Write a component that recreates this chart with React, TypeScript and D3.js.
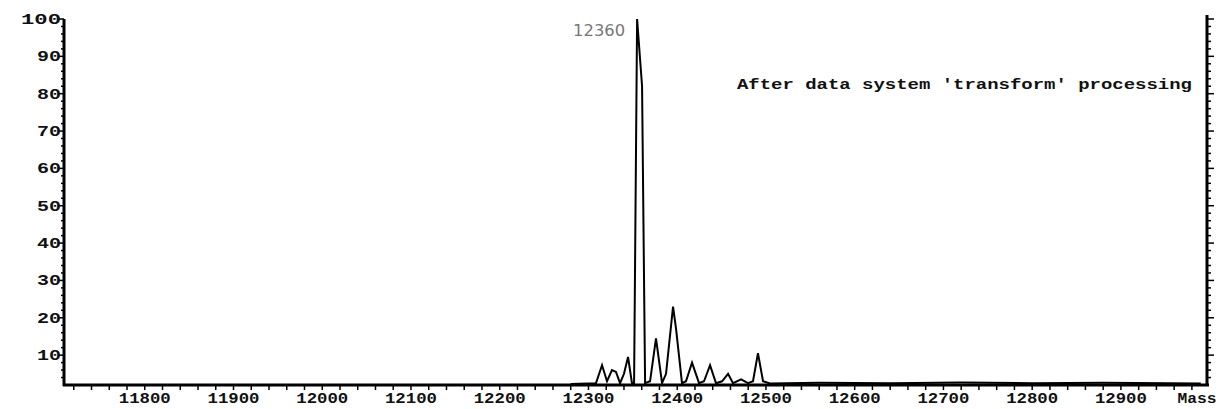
import React from 'react';
import * as d3 from 'd3';

// deconvoluted mass spectrum
const masses = [
  12280, 12308.5, 12315.3, 12320.9, 12326.5, 12331, 12335.6, 12340, 12344.6, 12349,
  12351.4, 12354.8, 12360.4, 12363.8, 12369.4, 12376.1, 12382.9, 12387.4, 12395.3, 12398.7,
  12405.4, 12409.9, 12416.7, 12424.6, 12430.2, 12437, 12443.7, 12450.5, 12457.3, 12462.9,
  12472, 12479.8, 12485.4, 12491, 12496.7, 12504.6, 12560, 12640, 12720, 12800, 12880, 12990,
];
const intensities = [
  2.3, 2.5, 7.3, 3, 6, 5.5, 2.5, 5, 9.5, 2.5,
  2.5, 100, 82, 2.5, 3, 14.5, 2.5, 5, 23, 17,
  2.5, 3, 8, 2.5, 3, 7.3, 2.5, 3, 5, 2.5,
  3.5, 2.5, 3, 10.5, 3, 2.4, 2.6, 2.5, 2.7, 2.5, 2.6, 2.4,
];

const xTicks = [11800, 11900, 12000, 12100, 12200, 12300, 12400, 12500, 12600, 12700, 12800, 12900];
const yTicks = [10, 20, 30, 40, 50, 60, 70, 80, 90, 100];
const peakMass = 12354.8;
const peakText = '12360';
const note = "After data system 'transform' processing";
const xTitle = 'Mass';

const W = 1226;
const H = 409;
const mono = '"Liberation Mono", "DejaVu Sans Mono", monospace';

export default function App() {
  const x = d3.scaleLinear().domain([11709, 12997]).range([64, 1207]);
  const y = d3.scaleLinear().domain([2, 100]).range([385, 19]);

  const pts: [number, number][] = masses.map((m, i) => [m, intensities[i]]);
  const line = d3.line<[number, number]>()
    .x(d => x(d[0]))
    .y(d => y(d[1]));

  const xMinor = d3.range(11720, 12997, 20);
  const yMinor = d3.range(4, 101, 2);
  const [x0, x1] = x.range();
  const y0 = y(2);
  const yTop = y(100);

  return (
    <svg width={W} height={H} style={{ position: 'absolute', left: 0, top: 0, background: '#fff' }}>
      {/* left axis */}
      <line x1={x0} x2={x0} y1={yTop} y2={y0 + 1} stroke="#000" strokeWidth={3} />
      {yMinor.map(v => (
        <line key={'yl' + v} x1={x0 - (v % 10 === 0 ? 5 : 3)} x2={x0} y1={y(v)} y2={y(v)}
          stroke="#000" strokeWidth={1.5} />
      ))}
      {yTicks.map(v => (
        <text key={'yt' + v} x={x0 - 3} y={y(v) + 5} textAnchor="end"
          fontFamily={mono} fontWeight="bold" fontSize={14} fill="#111"
          textLength={v === 100 ? 40 : 24} lengthAdjust="spacingAndGlyphs">{v}</text>
      ))}

      {/* right axis */}
      <line x1={x1} x2={x1} y1={yTop - 4} y2={y0 + 1} stroke="#000" strokeWidth={3} />
      {yMinor.map(v => (
        <line key={'yr' + v} x1={x1} x2={x1 + (v % 10 === 0 ? 7 : 4)} y1={y(v)} y2={y(v)}
          stroke="#000" strokeWidth={1.5} />
      ))}

      {/* bottom axis */}
      <line x1={x0 - 1} x2={x1 + 2} y1={y0} y2={y0} stroke="#000" strokeWidth={3} />
      {xMinor.map(v => (
        <line key={'xm' + v} x1={x(v)} x2={x(v)} y1={y0} y2={y0 + 5} stroke="#000" strokeWidth={1.5} />
      ))}
      {xTicks.map(v => (
        <g key={'xt' + v}>
          <rect x={x(v) - 27} y={y0 + 6} width={54} height={18} fill="#fff" />
          <text x={x(v)} y={y0 + 18} textAnchor="middle" fontFamily={mono} fontWeight="bold"
            fontSize={14} fill="#111" textLength={52} lengthAdjust="spacingAndGlyphs">{v}</text>
        </g>
      ))}
      <text x={1197} y={y0 + 18} textAnchor="middle" fontFamily={mono} fontWeight="bold"
        fontSize={14} fill="#111" textLength={39} lengthAdjust="spacingAndGlyphs">{xTitle}</text>

      {/* spectrum */}
      <path d={line(pts) ?? ''} fill="none" stroke="#000" strokeWidth={2} strokeLinejoin="miter" />

      {/* labels */}
      <text x={x(peakMass) - 12} y={y(100) + 17} textAnchor="end" fontFamily='"DejaVu Sans", sans-serif'
        fontSize={15} fill="#777" textLength={52} lengthAdjust="spacingAndGlyphs">{peakText}</text>
      <text x={737} y={89} fontFamily={mono} fontWeight="bold" fontSize={14} fill="#111"
        textLength={455} lengthAdjust="spacingAndGlyphs">{note}</text>
    </svg>
  );
}
